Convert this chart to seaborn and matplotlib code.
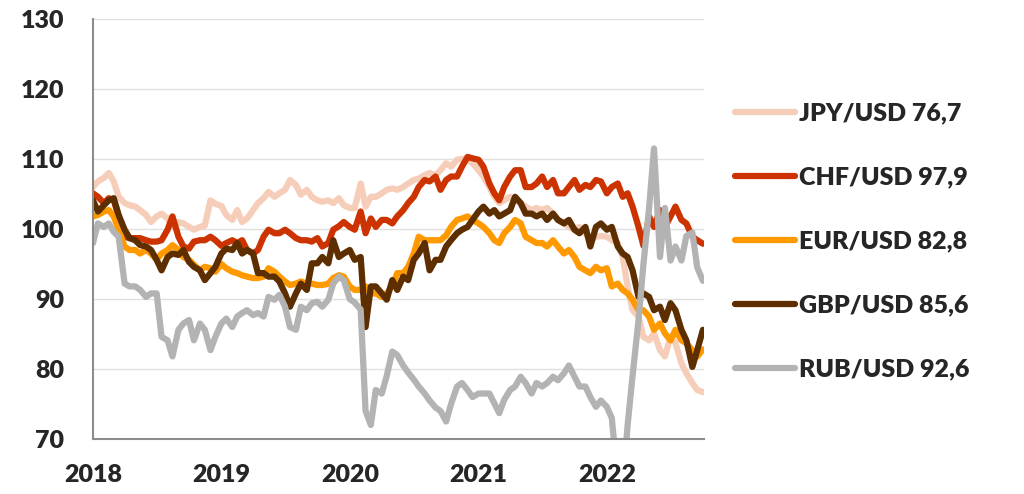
import numpy as np
import pandas as pd
import matplotlib
matplotlib.use('Agg')
import matplotlib.pyplot as plt
import matplotlib.dates as mdates
import seaborn as sns

# semi-monthly index values (start 2018 = 100-ish)
dates = pd.date_range('2018-01-01', periods=115, freq='SMS')

jpy = [106, 106.8, 107.3, 108, 106.8, 104.6, 103.7, 103.4, 103.2, 102.7, 102, 101, 101.8, 102.2, 101.5, 100.3,
       101, 100.8, 100.3, 99.9, 100.3, 100.5, 104.1, 103.6,
       103.3, 102, 101.3, 102.7, 101, 101.5, 102.7, 103.7, 104.4, 105.3, 104.6, 105.1, 105.6, 107, 106.3, 104.9,
       105.6, 104.6, 104.1, 103.9, 104.1, 103.7, 104.4, 103.4,
       103, 103, 106.5, 103.2, 104.6, 104.6, 105.1, 105.6, 105.8, 105.6, 106, 106.5, 107, 107.2, 107.7, 108,
       107.7, 108.4, 109.4, 108.9, 109.9, 110, 109.9, 109.4,
       108.4, 107.5, 106, 104.6, 103.7, 104.1, 104.6, 104.1, 103.7, 103.2, 102.7, 103, 102.7, 103, 102.2, 101.3,
       100.8, 100.3, 99.9, 100.3, 99.4, 98.4, 98.9, 99, 98.9,
       98.4, 98, 96, 91.8, 88.4, 87.5, 84.6, 84.1, 85.1, 82.7, 81.8, 84.6, 83.7, 80.8, 79.4, 78, 77, 76.7]

chf = [105.1, 104.6, 103.7, 104.4, 104.1, 101.8, 98.9, 98.7, 98.7, 98.7, 98.4, 98.2, 98.2, 98.4, 99.9, 101.8,
       98.9, 97.5, 97.2, 98.2, 98.4, 98.4, 98.9, 98.4,
       97.6, 98, 98.4, 98, 98.4, 97, 96.5, 97, 98.9, 99.9, 99.4, 99.4, 99.9, 99.4, 98.7, 98.4,
       98.4, 98.2, 98.7, 97.5, 98, 99.9, 100.4, 101,
       100.3, 99.9, 102.5, 99.4, 101.5, 100.3, 101.3, 101.3, 100.8, 101.8, 102.7, 103.7, 104.6, 106, 107, 106.8,
       107.5, 105.6, 107, 107.5, 107.5, 108.9, 110.3, 110.1,
       109.9, 108.9, 106.5, 105.1, 104.1, 106, 107.5, 108.4, 108.4, 106, 106, 106.5, 107.5, 106, 107, 105.1,
       105.1, 106, 107, 105.6, 106.3, 106, 107, 106.8, 105.1,
       106, 106.5, 104.6, 105.1, 103.2, 100.3, 97.6, 101.8, 100.3, 102.7, 100.3, 101.8, 103.2, 101.3, 100.8, 98.9,
       98.4, 97.9]

eur = [101.8, 102, 102.5, 102.7, 101.8, 99.9, 97.5, 97, 97, 96.5, 97, 96.5, 95.6, 96.5, 97, 97.7,
       97, 96, 95.6, 94.9, 94.1, 94.6, 94.4, 93.9,
       95, 94.4, 93.9, 93.7, 93.4, 93.2, 93, 93, 93.2, 94.4, 93.9, 93.2, 92.5, 92, 92.2, 92.5,
       92.2, 92.2, 92, 92, 92.2, 93, 93.4, 93.2,
       91.8, 91.3, 91.3, 91.8, 90.8, 90.8, 90.3, 90.8, 91.8, 93.7, 93.7, 94.6, 96.5, 98.9, 98.4, 98.4,
       98.4, 98.4, 99.1, 100.3, 101.3, 101.5, 101.8, 101.3,
       100.8, 100.3, 99.4, 98.4, 98, 99.4, 100.3, 101.3, 100.8, 98.9, 98.4, 98, 98, 97.5, 98.4, 97.5,
       96.5, 97, 96, 94.6, 94.1, 93.7, 94.6, 94.1, 94.4,
       91.8, 92.2, 91.3, 90.8, 89.9, 88.4, 88.4, 87.5, 85.6, 86.5, 85.1, 84.1, 85.6, 84.1, 83.7, 82.7,
       81.8, 82.8]

gbp = [104.1, 102.5, 103.4, 104.1, 104.4, 102, 99.9, 98.7, 98.4, 97.7, 97.5, 97, 95.6, 94.1, 96, 96.5,
       96.3, 97, 95.3, 94.6, 94.1, 92.7, 93.7, 94.6,
       96.5, 97.2, 97, 98, 96.5, 97, 96.5, 93.7, 93.7, 93.2, 93.2, 92.5, 90.8, 88.9, 90.8, 92.2,
       91.3, 95.1, 95.1, 96, 95.1, 98.4, 96, 96.5,
       97, 95.6, 96, 86, 91.8, 91.8, 90.8, 89.9, 92.7, 91.3, 93.2, 92.7, 95.6, 96.5, 98, 94.1,
       95.6, 95.6, 97.5, 98.4, 99.4, 99.9, 100.3, 101.3,
       102.5, 103.2, 102.2, 102.7, 101.8, 102.2, 102.7, 104.6, 103.7, 102.2, 102.2, 101.8, 102.2, 101.3, 102.2, 101.3,
       100.8, 101.3, 99.9, 99.4, 100.3, 97.5, 100.3, 100.8, 99.9,
       100.3, 97.5, 96.5, 96, 94.1, 90.3, 90.8, 90.3, 88.4, 88.9, 87, 89.4, 88.4, 85.6, 84.1, 80.3,
       82.7, 85.6]

rub = [98, 100.8, 100.3, 100.8, 99.6, 98.9, 92.2, 91.8, 91.8, 91.3, 90.3, 90.8, 90.8, 84.6, 84.1, 81.8,
       85.6, 86.5, 87, 84.1, 86.5, 85.6, 82.7, 84.6,
       86.5, 87.2, 86, 87.5, 88, 88.4, 87.7, 88, 87.5, 90.3, 89.9, 90.6, 88.9, 86, 85.6, 88.9,
       88.4, 89.4, 89.6, 88.9, 89.9, 92.2, 93.2, 92.7,
       90, 89.5, 88.5, 74, 72, 77, 76.5, 79, 82.5, 82, 80.5, 79.5, 78.5, 77.5, 76.5, 75.5,
       74.5, 74, 72.5, 75, 77.5, 78, 77, 76,
       76.5, 76.5, 76.5, 75.1, 73.7, 75.6, 77, 77.5, 78.9, 78, 76.5, 78, 77.5, 78, 78.9, 78.4,
       79.4, 80.5, 78.9, 77.5, 77.5, 76, 74.6, 75.5, 74.6,
       73, 64, 63, 72, 79, 87, 95, 103, 111.5, 96, 103, 95.5, 97.5, 95.5, 99, 99.5,
       94.5, 92.6]

labels = ['JPY/USD 76,7', 'CHF/USD 97,9', 'EUR/USD 82,8', 'GBP/USD 85,6', 'RUB/USD 92,6']
colors = ['#F6CDB8', '#CC3300', '#FF9900', '#5C2E00', '#B3B3B3']

series = [jpy, chf, eur, gbp, rub]
df = pd.DataFrame({
    'date': np.tile(dates, len(series)),
    'value': np.concatenate(series),
    'pair': np.repeat(labels, len(dates)),
})

sns.set_style('white')
plt.rcParams['font.family'] = ['Lato', 'DejaVu Sans']
plt.rcParams['font.weight'] = 'heavy'

fig = plt.figure(figsize=(10.24, 4.94), dpi=100)
ax = fig.add_axes([0.0908, 0.1113, 0.597, 0.8502])

sns.lineplot(data=df, x='date', y='value', hue='pair', hue_order=labels,
             palette=colors, linewidth=4.5, ax=ax)

ax.set_ylim(70, 130)
ax.set_yticks(range(70, 131, 10))
ax.set_xlim(pd.Timestamp('2018-01-01'), pd.Timestamp('2022-10-05'))
ax.xaxis.set_major_locator(mdates.YearLocator())
ax.xaxis.set_major_formatter(mdates.DateFormatter('%Y'))
ax.set_xlabel('')
ax.set_ylabel('')

ax.yaxis.grid(True, color='#e0e0e0', linewidth=1)
ax.set_axisbelow(True)
for s in ['top', 'right']:
    ax.spines[s].set_visible(False)
for s in ['left', 'bottom']:
    ax.spines[s].set_color('#8c8c8c')
    ax.spines[s].set_linewidth(1.5)
ax.tick_params(axis='both', direction='out', length=6, width=1.5, color='#8c8c8c',
               labelsize=18, pad=12)
ax.tick_params(axis='y', pad=15)

sns.move_legend(ax, loc='center left', bbox_to_anchor=(1.05, 0.47), frameon=False,
                title=None, fontsize=18, handlelength=2.4, handletextpad=0.15,
                labelspacing=1.68, borderaxespad=0, borderpad=0)

fig.savefig('out.png', dpi=100)
